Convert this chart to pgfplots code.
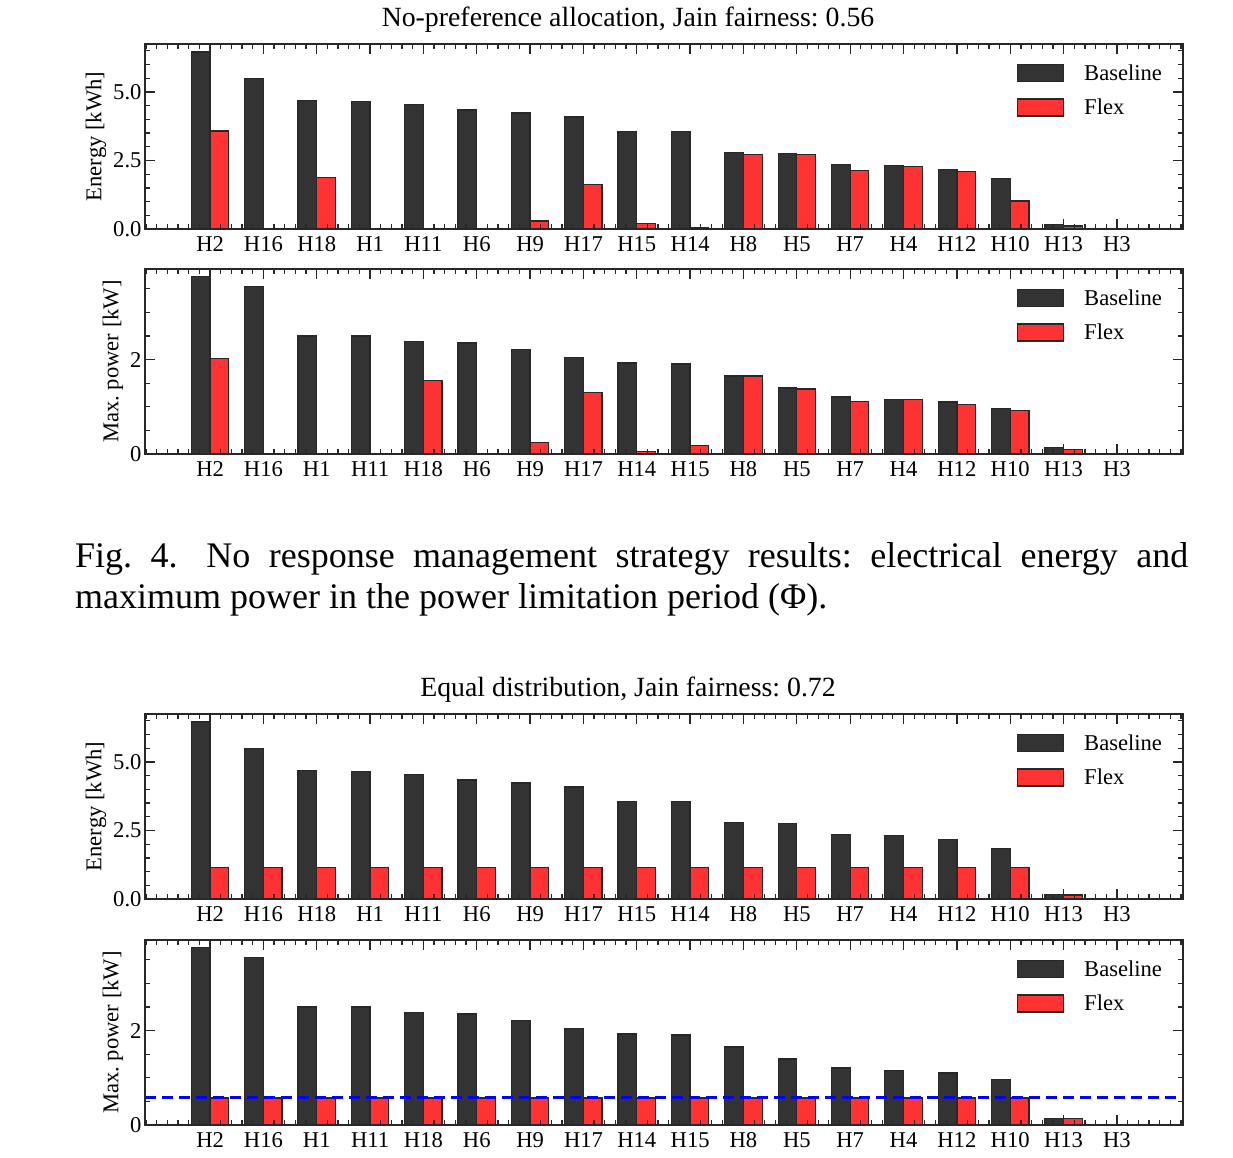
\documentclass[border=0pt]{standalone}
\usepackage{pgfplots}
\pgfplotsset{compat=1.18}
\usepackage{pgfplotstable}
\usepackage{fontspec}
\setmainfont{Liberation Serif}
\definecolor{basec}{RGB}{51,51,51}
\definecolor{flexc}{RGB}{255,51,51}
\definecolor{edgec}{RGB}{40,40,40}

\pgfplotstableread{
x base flex
0 6.46 3.57
1 5.48 0.00
2 4.70 1.89
3 4.65 0.02
4 4.54 0.00
5 4.34 0.03
6 4.23 0.29
7 4.09 1.63
8 3.56 0.20
9 3.56 0.06
10 2.78 2.73
11 2.76 2.72
12 2.35 2.14
13 2.32 2.29
14 2.17 2.11
15 1.85 1.02
16 0.16 0.11
17 0.00 0.00
}\energyNP

\pgfplotstableread{
x base flex
0 3.76 2.03
1 3.55 0.01
2 2.50 0.01
3 2.50 0.00
4 2.38 1.56
5 2.35 0.01
6 2.21 0.25
7 2.05 1.31
8 1.93 0.06
9 1.91 0.18
10 1.65 1.65
11 1.40 1.38
12 1.21 1.11
13 1.16 1.16
14 1.10 1.05
15 0.97 0.92
16 0.14 0.09
17 0.00 0.00
}\powerNP

\pgfplotstableread{
x base flex
0 6.46 1.16
1 5.48 1.16
2 4.70 1.16
3 4.65 1.16
4 4.54 1.16
5 4.34 1.16
6 4.23 1.16
7 4.09 1.16
8 3.56 1.16
9 3.56 1.16
10 2.78 1.16
11 2.76 1.16
12 2.35 1.16
13 2.32 1.16
14 2.17 1.16
15 1.85 1.16
16 0.16 0.15
17 0.00 0.00
}\energyEQ

\pgfplotstableread{
x base flex
0 3.76 0.575
1 3.55 0.575
2 2.50 0.575
3 2.50 0.575
4 2.38 0.575
5 2.35 0.575
6 2.21 0.575
7 2.05 0.575
8 1.93 0.575
9 1.91 0.575
10 1.65 0.575
11 1.40 0.575
12 1.21 0.575
13 1.16 0.575
14 1.10 0.575
15 0.97 0.575
16 0.14 0.14
17 0.00 0.00
}\powerEQ

\pgfplotsset{
  mybar/.style={
    scale only axis, width=1038pt, height=185pt,
    xmin=-1.22, xmax=18.24, ymin=0,
    xtick={0,...,17},
    minor xtick={-1.2,-1.0,...,18.2},
    tick align=inside,
    major tick length=10pt, minor tick length=5pt,
    tick style={edgec, line width=1.3pt},
    axis line style={edgec, line width=1.5pt},
    axis on top,
    tick label style={font=\fontsize{22.6}{26}\selectfont, text=black},
    xticklabel style={yshift=-4pt},
    label style={font=\fontsize{22.6}{26}\selectfont},
    legend style={draw=none, fill=none, at={(1,1)}, anchor=north east,
      xshift=-21pt, yshift=-20pt, inner sep=0pt, outer sep=0pt,
      row sep=16pt, column sep=20pt,
      nodes={inner sep=0pt},
      font=\fontsize{22.6}{26}\selectfont},
    legend cell align=left,
    legend image code/.code={\draw[#1] (0pt,-8.5pt) rectangle (46pt,8.5pt);},
  },
  energy/.style={mybar, ymax=6.75, ytick={0,2.5,5}, yticklabels={0.0,2.5,5.0},
    minor ytick={0.5,1,1.5,2,3,3.5,4,4.5,5.5,6,6.5}, ylabel={Energy [kWh]}},
  power/.style={mybar, ymax=3.92, ytick={0,2}, yticklabels={0,2},
    minor ytick={0.5,1,1.5,2.5,3,3.5}, ylabel={Max. power [kW]}},
  bbase/.style={ybar, bar width=0.35, bar shift=-0.175, fill=basec, draw=edgec, line width=1.3pt},
  bflex/.style={ybar, bar width=0.35, bar shift=0.175, fill=flexc, draw=edgec, line width=1.3pt},
}

\begin{document}
\frenchspacing
\begin{tikzpicture}
\path[use as bounding box] (0pt,0pt) rectangle (1233pt,1157pt);

\node[font=\fontsize{27.8}{32}\selectfont, anchor=base, inner sep=0pt] at (628pt,1130pt) {No-preference allocation, Jain fairness: 0.56};

\begin{axis}[energy, at={(145pt,928pt)}, anchor=south west,
  xticklabels={H2,H16,H18,H1,H11,H6,H9,H17,H15,H14,H8,H5,H7,H4,H12,H10,H13,H3}]
\addplot[bbase] table[x=x,y=base]{\energyNP};
\addplot[bflex] table[x=x,y=flex]{\energyNP};
\legend{Baseline,Flex}
\end{axis}

\begin{axis}[power, at={(145pt,703pt)}, anchor=south west,
  xticklabels={H2,H16,H1,H11,H18,H6,H9,H17,H14,H15,H8,H5,H7,H4,H12,H10,H13,H3}]
\addplot[bbase] table[x=x,y=base]{\powerNP};
\addplot[bflex] table[x=x,y=flex]{\powerNP};
\legend{Baseline,Flex}
\end{axis}

\node[anchor=base west, inner sep=0pt] at (75pt,589pt) {\parbox[t]{1113pt}{\frenchspacing\fontsize{36}{41}\selectfont Fig.~4.\hspace{0.8em}No response management strategy results: electrical energy and\linebreak maximum power in the power limitation period (Φ).}};

\node[font=\fontsize{27.8}{32}\selectfont, anchor=base, inner sep=0pt] at (628pt,460pt) {Equal distribution, Jain fairness: 0.72};

\begin{axis}[energy, at={(145pt,258pt)}, anchor=south west,
  xticklabels={H2,H16,H18,H1,H11,H6,H9,H17,H15,H14,H8,H5,H7,H4,H12,H10,H13,H3}]
\addplot[bbase] table[x=x,y=base]{\energyEQ};
\addplot[bflex] table[x=x,y=flex]{\energyEQ};
\legend{Baseline,Flex}
\end{axis}

\begin{axis}[power, at={(145pt,32pt)}, anchor=south west,
  xticklabels={H2,H16,H1,H11,H18,H6,H9,H17,H14,H15,H8,H5,H7,H4,H12,H10,H13,H3}]
\addplot[bbase] table[x=x,y=base]{\powerEQ};
\addplot[bflex] table[x=x,y=flex]{\powerEQ};
\addplot[blue, line width=3pt, dash pattern=on 11pt off 6pt] coordinates {(-1.22,0.575) (18.24,0.575)};
\legend{Baseline,Flex}
\end{axis}
\end{tikzpicture}
\end{document}
